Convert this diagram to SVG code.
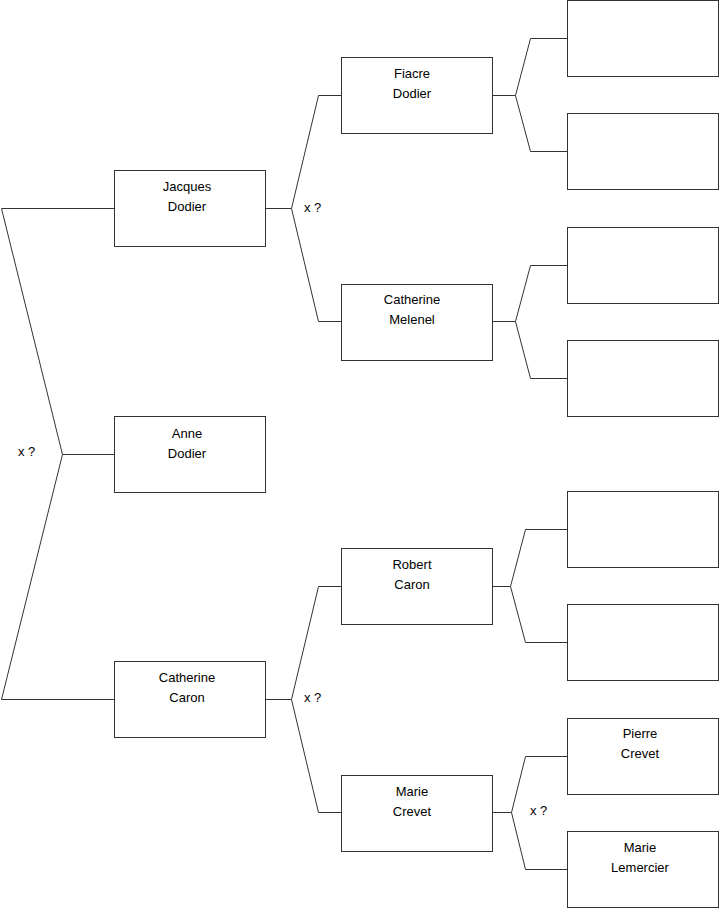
<svg xmlns="http://www.w3.org/2000/svg" width="719" height="908" viewBox="0 0 719 908">
<style>
rect.n{fill:#fff;stroke:#333;stroke-width:1}
#connectors path{fill:none;stroke:#333;stroke-width:1}
text{font-family:"Liberation Sans",Arial,sans-serif;font-size:13px;fill:#000}
text.c{text-anchor:middle}
</style>
<rect width="719" height="908" fill="#fff"/>
<g id="connectors">
<path d="M114.5,208.5H1.5L62.5,454.5H114.5M62.5,454.5L1.5,699.5H114.5"/>
<path d="M265.5,208.5H291.5L318.5,95.5H341.5M291.5,208.5L318.5,321.5H341.5"/>
<path d="M265.5,699.5H291.5L318.5,586.5H341.5M291.5,699.5L318.5,812.5H341.5"/>
<path d="M492.5,95.5H515.5L530.5,38.5H567.5M515.5,95.5L530.5,151.5H567.5"/>
<path d="M492.5,321.5H515.5L530.5,265.5H567.5M515.5,321.5L530.5,378.5H567.5"/>
<path d="M492.5,586.5H510.5L525.5,529.5H567.5M510.5,586.5L525.5,642.5H567.5"/>
<path d="M492.5,812.5H511.5L525.5,756.5H567.5M511.5,812.5L525.5,869.5H567.5"/>
<text x="18" y="456">x ?</text>
<text x="304" y="212">x ?</text>
<text x="304" y="702">x ?</text>
<text x="530" y="815">x ?</text>
</g>
<g id="jacques"><rect class="n" x="114.5" y="170.5" width="151" height="76"/><text class="c" x="187" y="191">Jacques</text><text class="c" x="187" y="211">Dodier</text></g>
<g id="anne"><rect class="n" x="114.5" y="416.5" width="151" height="76"/><text class="c" x="187" y="438">Anne</text><text class="c" x="187" y="458">Dodier</text></g>
<g id="catherine-caron"><rect class="n" x="114.5" y="661.5" width="151" height="76"/><text class="c" x="187" y="682">Catherine</text><text class="c" x="187" y="702">Caron</text></g>
<g id="fiacre"><rect class="n" x="341.5" y="57.5" width="151" height="76"/><text class="c" x="412" y="78">Fiacre</text><text class="c" x="412" y="98">Dodier</text></g>
<g id="catherine-melenel"><rect class="n" x="341.5" y="284.5" width="151" height="76"/><text class="c" x="412" y="304">Catherine</text><text class="c" x="412" y="324">Melenel</text></g>
<g id="robert"><rect class="n" x="341.5" y="548.5" width="151" height="76"/><text class="c" x="412" y="569">Robert</text><text class="c" x="412" y="589">Caron</text></g>
<g id="marie-crevet"><rect class="n" x="341.5" y="775.5" width="151" height="76"/><text class="c" x="412" y="796">Marie</text><text class="c" x="412" y="816">Crevet</text></g>
<g id="box-1"><rect class="n" x="567.5" y="0.5" width="151" height="76"/></g>
<g id="box-2"><rect class="n" x="567.5" y="113.5" width="151" height="76"/></g>
<g id="box-3"><rect class="n" x="567.5" y="227.5" width="151" height="76"/></g>
<g id="box-4"><rect class="n" x="567.5" y="340.5" width="151" height="76"/></g>
<g id="box-5"><rect class="n" x="567.5" y="491.5" width="151" height="76"/></g>
<g id="box-6"><rect class="n" x="567.5" y="604.5" width="151" height="76"/></g>
<g id="pierre-crevet"><rect class="n" x="567.5" y="718.5" width="151" height="76"/><text class="c" x="640" y="738">Pierre</text><text class="c" x="640" y="758">Crevet</text></g>
<g id="marie-lemercier"><rect class="n" x="567.5" y="831.5" width="151" height="76"/><text class="c" x="640" y="852">Marie</text><text class="c" x="640" y="872">Lemercier</text></g>
</svg>
